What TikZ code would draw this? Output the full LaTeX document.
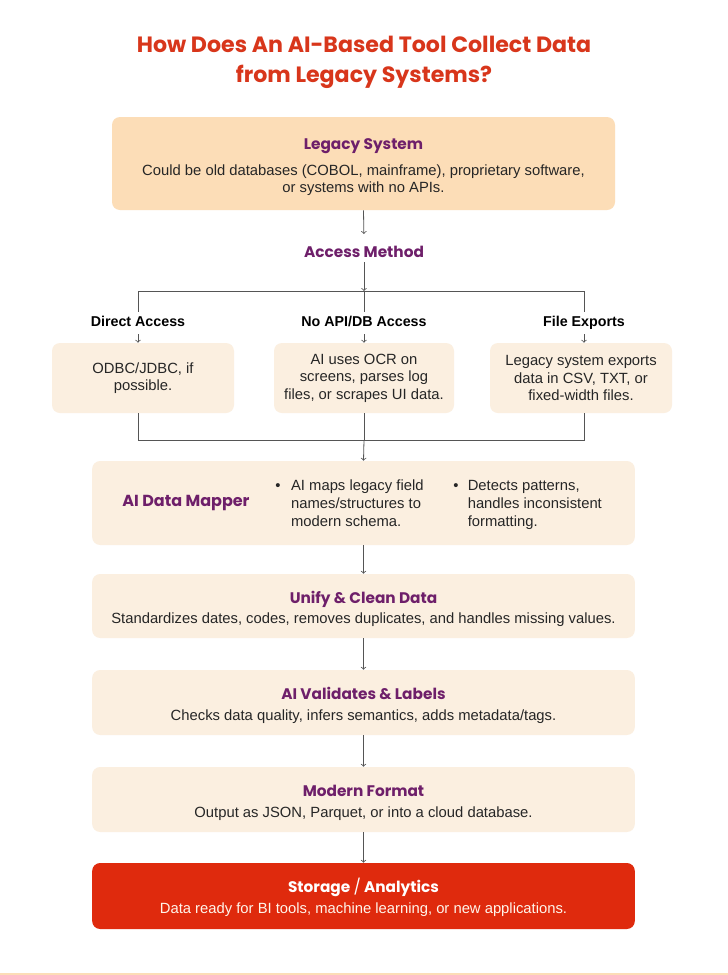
\documentclass[tikz,border=0pt]{standalone}
\usepackage{fontspec}
\setmainfont{Liberation Sans}
\newfontfamily\headfont{Poppins}
\definecolor{titlered}{HTML}{D8361B}
\definecolor{headpurple}{HTML}{6E1F6A}
\definecolor{peach}{HTML}{FCDDB7}
\definecolor{cream}{HTML}{FBEFE0}
\definecolor{alertred}{HTML}{DF2A0D}
\definecolor{linegray}{HTML}{555555}
\newcommand{\Head}[1]{{\headfont\bfseries\fontsize{11.5}{14}\selectfont\color{headpurple}\rule{0pt}{13.5pt}#1}}

\begin{document}
\begin{tikzpicture}[x=0.75pt, y=-0.75pt,
  body/.style={font=\fontsize{11.1}{13.2}\selectfont, text=black!85, align=center},
  box/.style={body, rounded corners=6pt, inner sep=0pt},
  widebox/.style={box, fill=cream, minimum width=407pt},
  smallbox/.style={box, fill=cream, minimum width=136.5pt, minimum height=52.5pt},
  lab/.style={font=\bfseries\fontsize{10.7}{12}\selectfont, text height=7.8pt, text depth=2.3pt},
  head/.style={font=\headfont\bfseries\fontsize{11.5}{14}\selectfont, text=headpurple},
  conn/.style={draw=linegray, line width=0.6pt}]

  \small

  \useasboundingbox[fill=white] (0,0) rectangle (728,975);
  \draw[peach, line width=1.2pt] (0,974) -- (728,974);

  %% title
  \node[font=\headfont\bfseries\fontsize{16.6}{22.5}\selectfont, text=titlered, align=center]
    (title) at (364,62) {How Does An AI-Based Tool Collect Data\\from Legacy Systems?};

  %% legacy system
  \node[box, fill=peach, minimum width=377.25pt, minimum height=69.75pt] (legacy) at (363.5,163.5)
    {\Head{Legacy System}\\[6.5pt]Could be old databases (COBOL, mainframe), proprietary software,\\or systems with no APIs.};

  \node[head] (access) at (364,252) {Access Method};
  \coordinate (bar) at (364,291);
  \coordinate (join) at (364,440);

  %% three ways in
  \node[lab] (da) at (138,323) {Direct Access};
  \node[lab] (na) at (364,323) {No API/DB Access};
  \node[lab] (fe) at (584,323) {File Exports};

  \node[smallbox] (dbox) at (143,378) {ODBC/JDBC, if\\possible.};
  \node[smallbox, minimum width=135pt] (nbox) at (364,378) {AI uses OCR on\\screens, parses log\\files, or scrapes UI data.};
  \node[smallbox] (fbox) at (581,378) {Legacy system exports\\data in CSV, TXT, or\\fixed-width files.};

  %% mapper
  \node[widebox, minimum height=63pt] (mapper) at (363.5,503) {};
  \node[head, font=\headfont\bfseries\fontsize{12}{14}\selectfont] (maptitle) at (186,503) {AI Data Mapper};
  \node[body, anchor=west, inner sep=0pt] (b1) at (275,505)
    {\def\arraystretch{1}\begin{tabular}{@{}c@{\hspace{8pt}}l@{}}\textbullet & AI maps legacy field\\ & names/structures to\\ & modern schema.\end{tabular}};
  \node[body, anchor=west, inner sep=0pt] (b2) at (453,505)
    {\def\arraystretch{1}\begin{tabular}{@{}c@{\hspace{7pt}}l@{}}\textbullet & Detects patterns,\\ & handles inconsistent\\ & formatting.\end{tabular}};

  %% the chain
  \node[widebox, minimum height=48pt] (unify) at (363.5,606)
    {\Head{Unify \& Clean Data}\\[2.5pt]Standardizes dates, codes, removes duplicates, and handles missing values.};
  \node[widebox, minimum height=48.75pt] (valid) at (363.5,702.5)
    {\Head{AI Validates \& Labels}\\[2.5pt]Checks data quality, infers semantics, adds metadata/tags.};
  \node[widebox, minimum height=48.75pt] (modern) at (363.5,799.5)
    {\Head{Modern Format}\\[2.5pt]Output as JSON, Parquet, or into a cloud database.};
  \node[widebox, fill=alertred, minimum height=49.5pt, text=orange!8] (store) at (363.5,896)
    {{\headfont\bfseries\fontsize{11.5}{14}\selectfont\color{white}\rule{0pt}{13pt}Storage {\mdseries/} Analytics}\\[2.5pt]Data ready for BI tools, machine learning, or new applications.};

  %% connectors
  \draw[conn, ->, shorten >=6pt] (legacy.south) -- (access.north);
  \draw[conn, ->] (access.south) -- (bar);
  \draw[conn] (da.north |- bar) -- (fe.north |- bar);
  \foreach \k in {da, na, fe}{
    \draw[conn] (\k.north |- bar) -- (\k.north);
    \draw[conn, ->] (\k.south) -- (\k.south |- dbox.north);
  }
  \draw[conn] (da |- dbox.south) -- (da |- join) -- (fe |- join) -- (fe |- fbox.south);
  \draw[conn] (nbox.south) -- (join);
  \draw[conn, ->] (join) -- (mapper.north);
  \draw[conn, ->] (mapper.south) -- (unify.north);
  \draw[conn, ->] (unify.south) -- (valid.north);
  \draw[conn, ->] (valid.south) -- (modern.north);
  \draw[conn, ->] (modern.south) -- (store.north);
\end{tikzpicture}
\end{document}
